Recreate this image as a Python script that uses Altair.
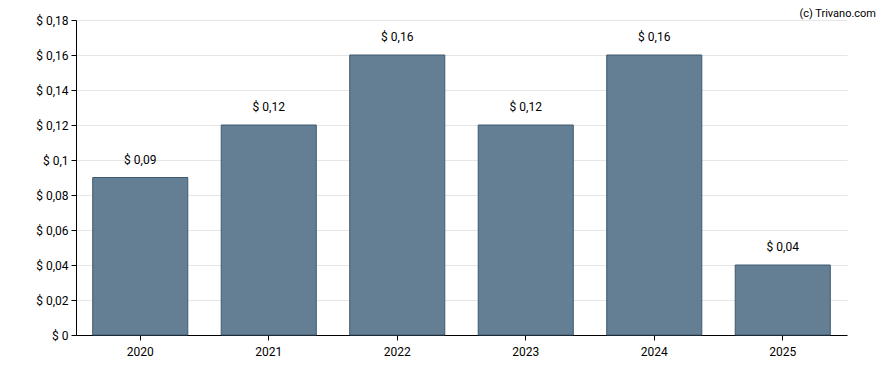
import altair as alt
import pandas as pd

years = ["2020", "2021", "2022", "2023", "2024", "2025"]
dividends = [0.09, 0.12, 0.16, 0.12, 0.16, 0.04]
y_ticks = [0, 0.02, 0.04, 0.06, 0.08, 0.10, 0.12, 0.14, 0.16, 0.18]

df = pd.DataFrame({"year": years, "value": dividends})

FONT = "Roboto"

x_enc = alt.X("year:N", sort=years, title=None,
              scale=alt.Scale(paddingInner=0.26, paddingOuter=0.13),
              axis=alt.Axis(labelAngle=0, labelPadding=6, grid=False))

y_enc = alt.Y("value:Q", title=None,
              scale=alt.Scale(domain=[0, 0.18], nice=False),
              axis=alt.Axis(values=y_ticks, labelPadding=3, grid=True, labelOverlap=False,
                            labelExpr="'$ ' + replace(format(datum.value, '~g'), '.', ',')"))

bars = alt.Chart(df).mark_bar(color="#647f93", stroke="#3f5b70", strokeWidth=1).encode(
    x=x_enc, y=y_enc
)

labels = alt.Chart(df).transform_calculate(
    lbl="'$ ' + replace(format(datum.value, '~g'), '.', ',')"
).mark_text(font=FONT, fontSize=12, color="#000", dy=-18, baseline="middle").encode(
    x=x_enc, y=y_enc, text="lbl:N",
)

credit = alt.Chart(pd.DataFrame({"t": ["(c) Trivano.com"]})).mark_text(
    font=FONT, fontSize=11, color="#000", align="right", baseline="top"
).encode(x=alt.value(800), y=alt.value(-12), text="t:N")

chart = alt.layer(bars, labels, credit).properties(
    width=771, height=315,
    background="white",
    autosize=alt.AutoSizeParams(type="none"),
    padding={"left": 68, "top": 12, "right": 33, "bottom": 27},
).configure_view(
    strokeWidth=0
).configure_axis(
    labelFont=FONT, labelFontSize=12, labelColor="#000",
    domainColor="#000", tickColor="#000", tickSize=5, gridColor="#e6e6e6",
)

chart.save("out.html", embed_options={"renderer": "svg", "actions": False})
